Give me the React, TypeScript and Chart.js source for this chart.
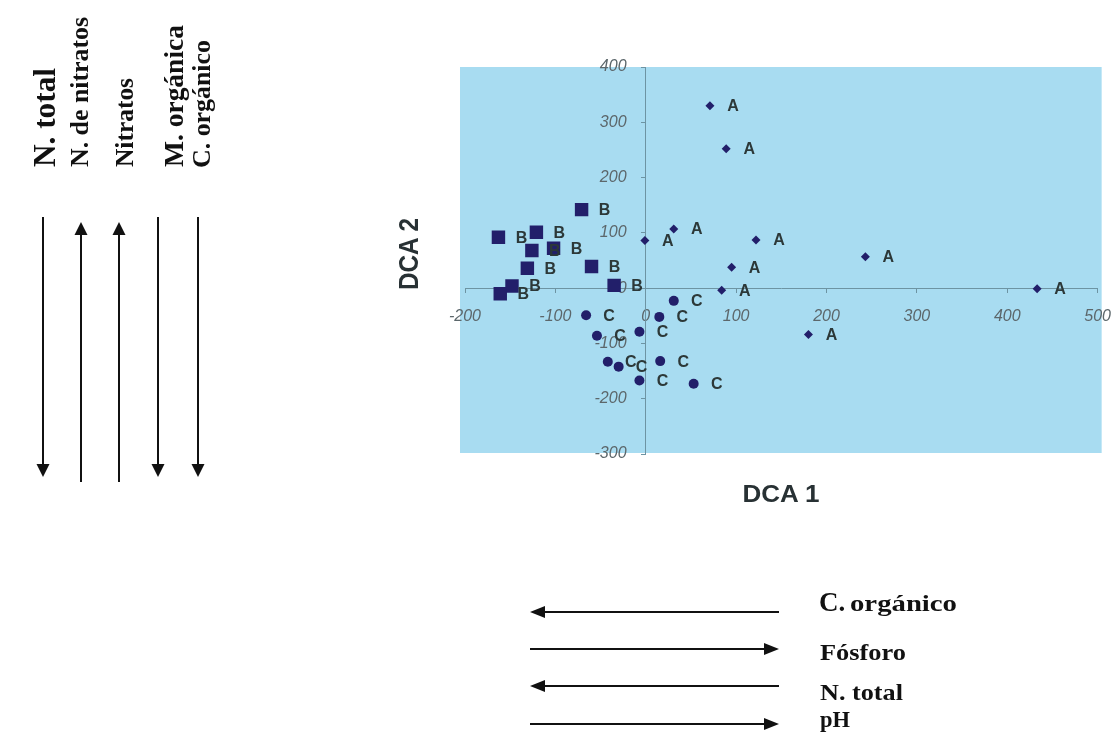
import React, { useEffect, useRef } from 'react';
import { Chart, registerables } from 'chart.js';

Chart.register(...registerables);

// ---- data ----
const seriesALabel = 'A';
const seriesAX = [71, 89, 31, -1, 122, 95, 84, 243, 433, 180];
const seriesAY = [330, 252, 107, 86, 87, 38, -4, 57, -1, -84];

const seriesBLabel = 'B';
const seriesBX = [-71, -163, -121, -126, -102, -131, -60, -35, -148, -161];
const seriesBY = [142, 92, 101, 68, 72, 36, 39, 5, 4, -10];

const seriesCLabel = 'C';
const seriesCX = [31, -66, 15, -54, -7, -42, -30, 16, -7, 53];
const seriesCY = [-23, -49, -52, -86, -79, -133, -142, -132, -167, -173];

const xTicks = [-200, -100, 0, 100, 200, 300, 400, 500];
const yTicks = [-300, -200, -100, 0, 100, 200, 300, 400];

const xTitle = 'DCA 1';
const yTitle = 'DCA 2';

const leftLabels = ['N. total', 'N. de nitratos', 'Nitratos', 'M. orgánica', 'C. orgánico'];
const leftDirections = ['down', 'up', 'up', 'down', 'down'];
const bottomLabels = ['C. orgánico', 'Fósforo', 'N. total', 'pH'];
const bottomDirections = ['left', 'right', 'left', 'right'];

// ---- styles ----
const PLOT_BG = '#a8dcf1';
const AXIS_COLOR = '#6d94a3';
const MARK_COLOR = '#221f6a';
const TICK_COLOR = '#5c676b';
const LETTER_COLOR = '#2c3838';
const SANS = '"Liberation Sans", Arial, sans-serif';
const SERIF = '"Liberation Serif", "Times New Roman", serif';

const toPoints = (xs: number[], ys: number[]) => xs.map((x, i) => ({ x, y: ys[i] }));

const bgPlugin = {
  id: 'plotBg',
  beforeDraw(chart: any) {
    const { ctx, chartArea: a } = chart;
    ctx.save();
    ctx.fillStyle = PLOT_BG;
    ctx.fillRect(a.left - 5, a.top, a.right - a.left + 9, a.bottom - a.top - 1);
    ctx.restore();
  },
};

const letterPlugin = {
  id: 'letters',
  afterDatasetsDraw(chart: any) {
    const ctx = chart.ctx;
    ctx.save();
    ctx.font = `bold 16px ${SANS}`;
    ctx.fillStyle = LETTER_COLOR;
    ctx.textAlign = 'center';
    ctx.textBaseline = 'middle';
    chart.data.datasets.forEach((ds: any, i: number) => {
      const meta = chart.getDatasetMeta(i);
      meta.data.forEach((el: any) => {
        ctx.fillText(ds.label, el.x + 23, el.y + 1);
      });
    });
    ctx.restore();
  },
};

function ScatterChart() {
  const ref = useRef<HTMLCanvasElement | null>(null);
  useEffect(() => {
    if (!ref.current) return;
    const tickFont = { family: SANS, size: 16, style: 'italic' as const };
    const chart = new Chart(ref.current, {
      type: 'scatter',
      data: {
        datasets: [
          {
            label: seriesALabel,
            data: toPoints(seriesAX, seriesAY),
            pointStyle: 'rectRot',
            pointRadius: 4.5,
            backgroundColor: MARK_COLOR,
            borderColor: MARK_COLOR,
            borderWidth: 0,
          },
          {
            label: seriesBLabel,
            data: toPoints(seriesBX, seriesBY),
            pointStyle: 'rect',
            pointRadius: 9.5,
            backgroundColor: MARK_COLOR,
            borderColor: MARK_COLOR,
            borderWidth: 0,
          },
          {
            label: seriesCLabel,
            data: toPoints(seriesCX, seriesCY),
            pointStyle: 'circle',
            pointRadius: 5,
            backgroundColor: MARK_COLOR,
            borderColor: MARK_COLOR,
            borderWidth: 0,
          },
        ],
      },
      options: {
        animation: false,
        responsive: false,
        events: [],
        layout: { padding: { left: 85, right: 9, top: 27, bottom: 66 } },
        plugins: {
          legend: { display: false },
          tooltip: { enabled: false },
          title: { display: false },
        },
        scales: {
          x: {
            type: 'linear',
            position: { y: 0 },
            min: xTicks[0],
            max: xTicks[xTicks.length - 1],
            afterBuildTicks: (scale: any) => {
              scale.ticks = xTicks.map((v) => ({ value: v }));
            },
            ticks: {
              autoSkip: false,
              maxRotation: 0,
              font: tickFont,
              color: TICK_COLOR,
              padding: 15,
            },
            grid: { display: true, drawOnChartArea: false, drawTicks: true, tickLength: 4, color: AXIS_COLOR },
            border: { display: true, color: AXIS_COLOR, width: 1 },
          },
          y: {
            type: 'linear',
            position: { x: 0 },
            min: yTicks[0],
            max: yTicks[yTicks.length - 1],
            afterBuildTicks: (scale: any) => {
              scale.ticks = yTicks.map((v) => ({ value: v }));
            },
            ticks: {
              autoSkip: false,
              font: tickFont,
              color: TICK_COLOR,
              padding: 16,
              // keep a gap between the label and the central axis line
              callback: (v: any) => `${v}\u2002\u2002\u2009`,
            },
            grid: { display: true, drawOnChartArea: false, drawTicks: true, tickLength: 4, color: AXIS_COLOR },
            border: { display: true, color: AXIS_COLOR, width: 1 },
          },
        },
      },
      plugins: [bgPlugin, letterPlugin],
    });
    return () => chart.destroy();
  }, []);
  return (
    <canvas
      ref={ref}
      width={746}
      height={480}
      style={{ position: 'absolute', left: 380, top: 40, width: 746, height: 480, display: 'block' }}
    />
  );
}

function VArrow({ x, dir }: { x: number; dir: string }) {
  const top = dir === 'up' ? 222 : 217;
  const bottom = dir === 'up' ? 482 : 477;
  const head = 13;
  const hw = 6.5;
  if (dir === 'up') {
    return (
      <g>
        <line x1={x} y1={top + head - 1} x2={x} y2={bottom} stroke="#111" strokeWidth={2} />
        <polygon points={`${x - hw},${top + head} ${x + hw},${top + head} ${x},${top}`} fill="#111" />
      </g>
    );
  }
  return (
    <g>
      <line x1={x} y1={top} x2={x} y2={bottom - head + 1} stroke="#111" strokeWidth={2} />
      <polygon points={`${x - hw},${bottom - head} ${x + hw},${bottom - head} ${x},${bottom}`} fill="#111" />
    </g>
  );
}

function HArrow({ y, dir }: { y: number; dir: string }) {
  const left = 530;
  const right = 779;
  const head = 15;
  const hw = 6;
  if (dir === 'left') {
    return (
      <g>
        <line x1={left + head - 1} y1={y} x2={right} y2={y} stroke="#111" strokeWidth={2} />
        <polygon points={`${left + head},${y - hw} ${left + head},${y + hw} ${left},${y}`} fill="#111" />
      </g>
    );
  }
  return (
    <g>
      <line x1={left} y1={y} x2={right - head + 1} y2={y} stroke="#111" strokeWidth={2} />
      <polygon points={`${right - head},${y - hw} ${right - head},${y + hw} ${right},${y}`} fill="#111" />
    </g>
  );
}

const leftTextGeom = [
  { x: 55, y: 167, size: 31, len: 99 },
  { x: 88, y: 167, size: 26, len: 150 },
  { x: 133, y: 167, size: 26, len: 89 },
  { x: 183, y: 167, size: 27, len: 142 },
  { x: 210, y: 168, size: 26, len: 128 },
];
const leftArrowX = [43, 81, 119, 158, 198];
const bottomArrowY = [612, 649, 686, 724];

export default function App() {
  return (
    <div style={{ position: 'fixed', left: 0, top: 0, width: 1115, height: 740, background: '#fff', overflow: 'hidden' }}>
      <ScatterChart />
      <svg width={1115} height={740} style={{ position: 'absolute', left: 0, top: 0, pointerEvents: 'none' }}>
        {/* left vertical labels */}
        {leftLabels.map((t, i) => {
          const g = leftTextGeom[i];
          return (
            <text
              key={'lt' + i}
              transform={`translate(${g.x},${g.y}) rotate(-90)`}
              x={0}
              y={0}
              fontFamily={SERIF}
              fontWeight="bold"
              fontSize={g.size}
              textLength={g.len}
              lengthAdjust="spacingAndGlyphs"
              fill="#111"
            >
              {t}
            </text>
          );
        })}
        {leftDirections.map((d, i) => (
          <VArrow key={'va' + i} x={leftArrowX[i]} dir={d} />
        ))}

        {/* bottom arrows and labels */}
        {bottomDirections.map((d, i) => (
          <HArrow key={'ha' + i} y={bottomArrowY[i]} dir={d} />
        ))}
        <text x={819} y={611} fontFamily={SERIF} fontWeight="bold" fontSize={27} fill="#111">
          {bottomLabels[0].split(' ')[0]}
        </text>
        <text x={850} y={611} fontFamily={SERIF} fontWeight="bold" fontSize={23} fill="#111" textLength={107} lengthAdjust="spacingAndGlyphs">
          {bottomLabels[0].split(' ').slice(1).join(' ')}
        </text>
        <text x={820} y={660} fontFamily={SERIF} fontWeight="bold" fontSize={22.5} fill="#111" textLength={86} lengthAdjust="spacingAndGlyphs">
          {bottomLabels[1]}
        </text>
        <text x={820} y={700} fontFamily={SERIF} fontWeight="bold" fontSize={22.5} fill="#111" textLength={83} lengthAdjust="spacingAndGlyphs">
          {bottomLabels[2]}
        </text>
        <text x={820} y={727} fontFamily={SERIF} fontWeight="bold" fontSize={22.5} fill="#111" textLength={30} lengthAdjust="spacingAndGlyphs">
          {bottomLabels[3]}
        </text>

        {/* axis titles */}
        <text x={781} y={502} textAnchor="middle" fontFamily={SANS} fontWeight="bold" fontSize={23} fill="#283134" textLength={77} lengthAdjust="spacingAndGlyphs">
          {xTitle}
        </text>
        <text
          transform={`translate(418,254) rotate(-90) scale(1,1.25)`}
          x={0}
          y={0}
          textAnchor="middle"
          fontFamily={SANS}
          fontWeight="bold"
          fontSize={22}
          fill="#283134"
          textLength={72}
          lengthAdjust="spacingAndGlyphs"
        >
          {yTitle}
        </text>
      </svg>
    </div>
  );
}
